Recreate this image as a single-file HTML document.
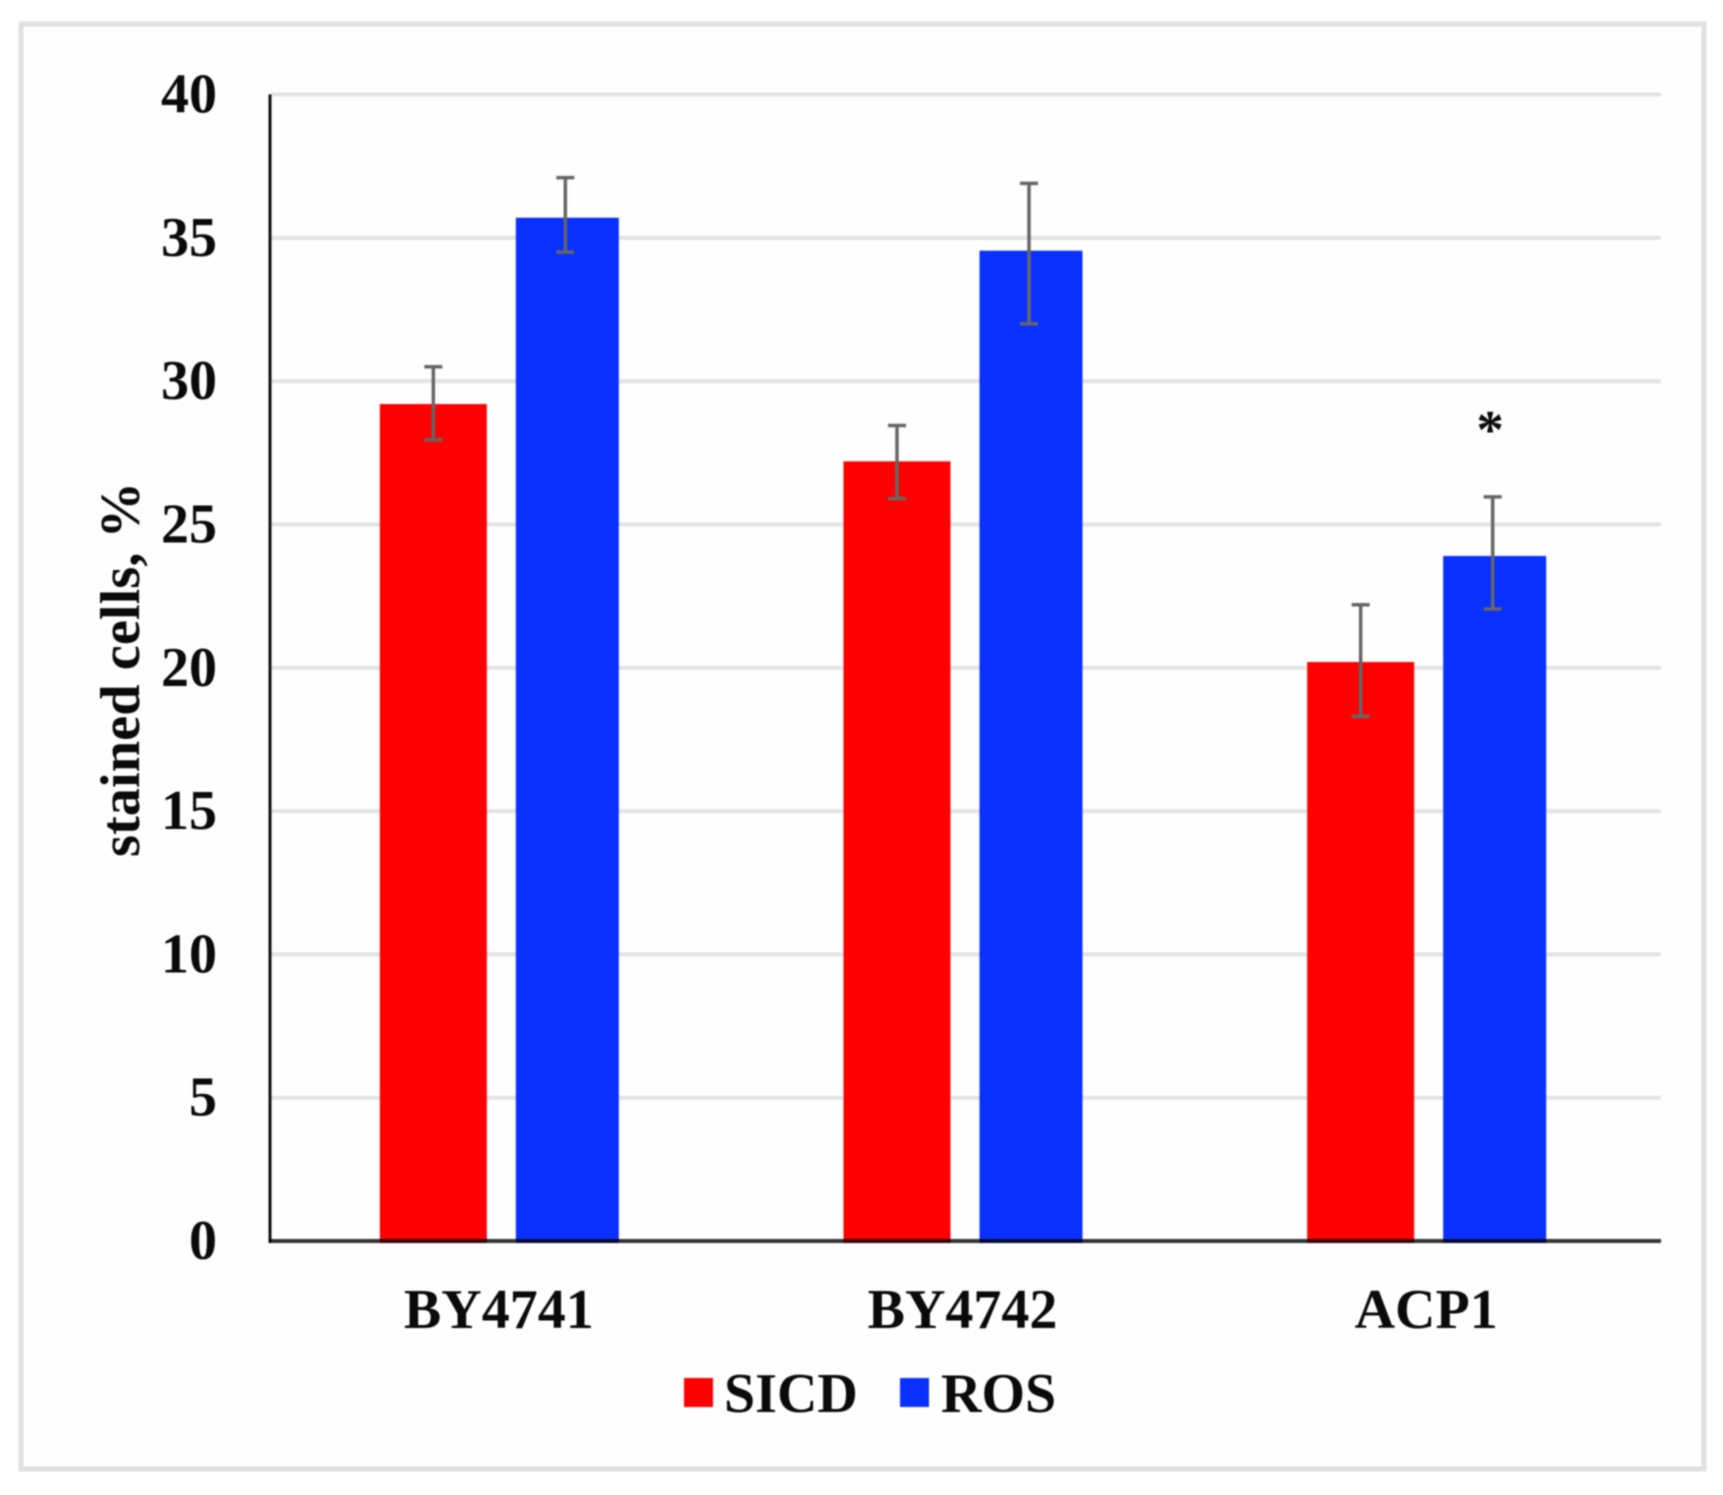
<!DOCTYPE html>
<html lang="en">
<head>
<meta charset="utf-8">
<title>Stained cells chart</title>
<style>
  html, body { margin: 0; padding: 0; background: #fff; }
  #chart { display: block; filter: blur(0.8px); }
  text { font-family: "Liberation Serif", serif; font-weight: bold; fill: #0a0a0a; }
</style>
</head>
<body>
<svg id="chart" xmlns="http://www.w3.org/2000/svg" width="1723" height="1495" viewBox="0 0 1723 1495">
  <rect x="21" y="24" width="1683" height="1445" fill="#fefefe" stroke="#e0e0e0" stroke-width="5"/>
  <g id="grid"></g>
  <g id="bars"></g>
  <g id="errors"></g>
  <g id="axes"></g>
  <g id="labels"></g>
  <g id="legend"></g>
</svg>
<script>
const categories = ['BY4741', 'BY4742', 'ACP1'];
const seriesNames = ['SICD', 'ROS'];
const sicdValues = [29.2, 27.2, 20.2];
const rosValues = [35.7, 34.55, 23.9];
const sicdErrHigh = [30.5, 28.45, 22.2];
const sicdErrLow = [27.95, 25.9, 18.3];
const rosErrHigh = [37.1, 36.9, 25.96];
const rosErrLow = [34.5, 32.0, 22.05];
const yTicks = [0, 5, 10, 15, 20, 25, 30, 35, 40];
const significance = ['', '', '*'];

const NS = 'http://www.w3.org/2000/svg';
const plotLeft = 270, plotRight = 1661, plotBottom = 1241, plotTop = 94.5, yMax = 40;
function yScale(v) { return plotBottom - (v / yMax) * (plotBottom - plotTop); }
function xCenter(i) { return plotLeft + (i + 0.5) * (plotRight - plotLeft) / categories.length; }
function make(tag, parent, attrs, content) {
  const el = document.createElementNS(NS, tag);
  for (const k in attrs) el.setAttribute(k, attrs[k]);
  if (content !== undefined) el.textContent = content;
  document.getElementById(parent).appendChild(el);
  return el;
}

yTicks.forEach(function (t) {
  if (t > 0) {
    const grid = make('line', 'grid', { x1: plotLeft, x2: plotRight, y1: yScale(t), y2: yScale(t), stroke: '#e3e3e3', 'stroke-width': 4 });
    
    
  }
  const label = make('text', 'labels', { x: 217, y: yScale(t) + 18, 'text-anchor': 'end', 'font-size': 56 }, String(t));
  
  
});

function drawSeries(key, values, high, low, color, offset, width, errShift) {
  values.forEach(function (v, i) {
    const cx = xCenter(i) + offset;
    const bar = make('rect', 'bars', { x: cx - width / 2, y: yScale(v), width: width, height: plotBottom + 2 - yScale(v), fill: color });
    
    
    const ex = cx + errShift;
    const stem = make('line', 'errors', { x1: ex, x2: ex, y1: yScale(high[i]), y2: yScale(low[i]), stroke: '#666', 'stroke-width': 3.5 });
    
    
    [high[i], low[i]].forEach(function (e) {
      const cap = make('line', 'errors', { x1: ex - 9, x2: ex + 9, y1: yScale(e), y2: yScale(e), stroke: '#666', 'stroke-width': 3.5 });
      
      
    });
  });
}
drawSeries('sicd', sicdValues, sicdErrHigh, sicdErrLow, '#fe0000', -68.5, 107, 0);
drawSeries('ros', rosValues, rosErrHigh, rosErrLow, '#0a30ff', 65.5, 103, -2);

const yAxis = make('line', 'axes', { x1: plotLeft, x2: plotLeft, y1: plotTop, y2: plotBottom + 2, stroke: '#111', 'stroke-width': 3 });


const xAxis = make('line', 'axes', { x1: plotLeft - 1, x2: plotRight, y1: plotBottom, y2: plotBottom, stroke: 'rgba(0,0,0,0.8)', 'stroke-width': 4 });



categories.forEach(function (c, i) {
  const label = make('text', 'labels', { x: xCenter(i) - 3, y: 1328, 'text-anchor': 'middle', 'font-size': 56 }, c);
  
  
  if (significance[i]) {
    const star = make('text', 'labels', { x: xCenter(i) + 61, y: 448, 'text-anchor': 'middle', 'font-size': 55 }, significance[i]);
    
    
  }
});

const yTitle = make('text', 'labels', { x: 0, y: 0, 'text-anchor': 'middle', 'font-size': 56.5, transform: 'translate(139 669.5) rotate(-90)' }, 'stained cells, %');



const legendSwatchX = [684, 900];
const legendTextX = [724, 941];
const legendColors = ['#fe0000', '#0a30ff'];
seriesNames.forEach(function (name, i) {
  const swatch = make('rect', 'legend', { x: legendSwatchX[i], y: 1378, width: 29, height: 29, fill: legendColors[i] });
  
  
  const text = make('text', 'legend', { x: legendTextX[i], y: 1412, 'font-size': 56 }, name);
  
  
});
</script>
</body>
</html>
